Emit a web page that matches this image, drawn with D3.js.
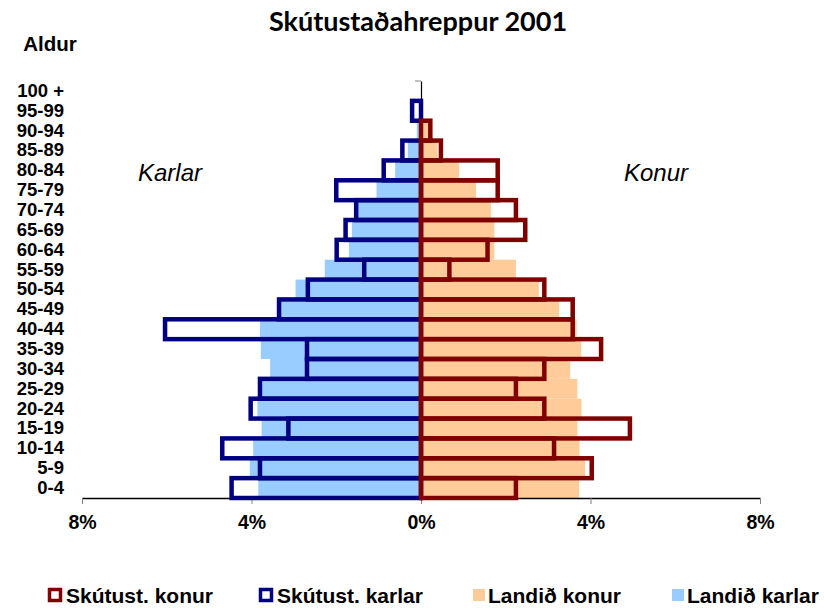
<!DOCTYPE html>
<html>
<head>
<meta charset="utf-8">
<script src="https://cdn.jsdelivr.net/npm/d3@7"></script>
<style>
  body { margin: 0; background: #fff; }
  text { font-family: "Liberation Sans", Arial, sans-serif; }
</style>
</head>
<body>
<svg id="chart" width="824" height="608"></svg>
<script>
// age groups, bottom to top
var ages = ["0-4", "5-9", "10-14", "15-19", "20-24", "25-29", "30-34", "35-39", "40-44", "45-49",
            "50-54", "55-59", "60-64", "65-69", "70-74", "75-79", "80-84", "85-89", "90-94", "95-99", "100 +"];

// percent of population
var skutKarlar = [4.47, 3.80, 4.69, 3.13, 4.02, 3.80, 2.69, 2.69, 6.04, 3.35,
                  2.67, 1.34, 1.99, 1.78, 1.53, 2.00, 0.88, 0.44, 0, 0.21, 0];
var skutKonur  = [2.24, 4.03, 3.14, 4.93, 2.91, 2.24, 2.91, 4.25, 3.58, 3.58,
                  2.91, 0.67, 1.57, 2.46, 2.24, 1.81, 1.81, 0.47, 0.22, 0, 0];
var landKarlar = [3.84, 4.04, 3.96, 3.76, 3.86, 3.75, 3.56, 3.78, 3.80, 3.32,
                  2.96, 2.27, 1.70, 1.63, 1.49, 1.05, 0.61, 0.31, 0.10, 0.03, 0];
var landKonur  = [3.73, 3.87, 3.74, 3.69, 3.79, 3.69, 3.52, 3.78, 3.67, 3.26,
                  2.78, 2.24, 1.73, 1.73, 1.65, 1.30, 0.90, 0.39, 0.17, 0.05, 0.01];

var xTicks = [-8, -4, 0, 4, 8];
var legendNames = ["Skútust. konur", "Skútust. karlar", "Landið konur", "Landið karlar"];

var svg = d3.select("#chart");

var x = d3.scaleLinear().domain([-8, 8]).range([82, 760]);
var y = d3.scaleBand().domain(ages).range([498, 81]).padding(0);

function rows(vals, sign) {
  return vals.map(function (v, i) { return { age: ages[i], v: v * sign }; })
             .filter(function (d) { return d.v !== 0; });
}

// title
svg.append("text")
  .attr("x", 418).attr("y", 31)
  .attr("text-anchor", "middle")
  .style("font-family", "Lato, 'Open Sans', sans-serif")
  .style("font-weight", "bold")
  .style("font-size", "27px")
  .text("Skútustaðahreppur 2001");

svg.append("text")
  .attr("x", 50).attr("y", 51)
  .attr("text-anchor", "middle")
  .style("font-weight", "bold")
  .style("font-size", "20.5px")
  .text("Aldur");

// Landið bars (filled)
svg.append("g").selectAll("rect")
  .data(rows(landKarlar, -1)).enter().append("rect")
  .attr("x", function (d) { return x(d.v); })
  .attr("y", function (d) { return y(d.age); })
  .attr("width", function (d) { return x(0) - x(d.v); })
  .attr("height", y.bandwidth())
  .style("fill", "#99CCFF");

svg.append("g").selectAll("rect")
  .data(rows(landKonur, 1)).enter().append("rect")
  .attr("x", x(0))
  .attr("y", function (d) { return y(d.age); })
  .attr("width", function (d) { return x(d.v) - x(0); })
  .attr("height", y.bandwidth())
  .style("fill", "#FFCC99");

// x axis
var xAxis = svg.append("g")
  .attr("transform", "translate(0,498)")
  .call(d3.axisBottom(x).tickValues(xTicks).tickSize(6).tickSizeOuter(0)
        .tickFormat(function (d) { return Math.abs(d) + "%"; }));
xAxis.select(".domain").attr("stroke", "#000").attr("stroke-width", 1.5);
xAxis.selectAll(".tick line").attr("stroke", "#808080");
xAxis.selectAll(".tick text")
  .attr("y", 17)
  .attr("fill", "#000")
  .style("font-family", "'Liberation Sans', Arial, sans-serif")
  .style("font-weight", "bold")
  .style("font-size", "19.5px");

// centre category axis
var yAxis = svg.append("g")
  .attr("transform", "translate(" + x(0) + ",0)")
  .call(d3.axisLeft(y).tickValues([]).tickSizeOuter(0));
yAxis.select(".domain").attr("stroke", "#000").attr("stroke-width", 1.2);
yAxis.selectAll(".bnd")
  .data(ages).enter().append("line")
  .attr("x1", -6).attr("x2", 0)
  .attr("y1", function (d) { return y(d); })
  .attr("y2", function (d) { return y(d); })
  .attr("stroke", "#808080");

// age labels
var yLab = svg.append("g")
  .attr("transform", "translate(64,0)")
  .call(d3.axisLeft(y).tickSize(0).tickPadding(0));
yLab.select(".domain").remove();
yLab.selectAll(".tick text")
  .attr("fill", "#000")
  .style("font-family", "'Liberation Sans', Arial, sans-serif")
  .style("font-weight", "bold")
  .style("font-size", "18.5px");

// Skútustaðahreppur bars (outlined)
svg.append("g").selectAll("rect")
  .data(rows(skutKarlar, -1)).enter().append("rect")
  .attr("x", function (d) { return x(d.v); })
  .attr("y", function (d) { return y(d.age); })
  .attr("width", function (d) { return x(0) - x(d.v); })
  .attr("height", y.bandwidth())
  .style("fill", "none")
  .style("stroke", "#000080")
  .style("stroke-width", 4.5);

svg.append("g").selectAll("rect")
  .data(rows(skutKonur, 1)).enter().append("rect")
  .attr("x", x(0))
  .attr("y", function (d) { return y(d.age); })
  .attr("width", function (d) { return x(d.v) - x(0); })
  .attr("height", y.bandwidth())
  .style("fill", "none")
  .style("stroke", "#800000")
  .style("stroke-width", 4.5);

// side labels
svg.append("text").attr("x", 170).attr("y", 181)
  .attr("text-anchor", "middle")
  .style("font-style", "italic").style("font-size", "24px")
  .text("Karlar");
svg.append("text").attr("x", 656).attr("y", 181)
  .attr("text-anchor", "middle")
  .style("font-style", "italic").style("font-size", "24px")
  .text("Konur");

// legend
var legendX = [48, 259, 472, 671];
var legendStyle = [
  { fill: "#fff", stroke: "#800000" },
  { fill: "#fff", stroke: "#000080" },
  { fill: "#FFCC99", stroke: "none" },
  { fill: "#99CCFF", stroke: "none" }
];
var leg = svg.append("g").selectAll("g")
  .data(legendNames).enter().append("g")
  .attr("transform", function (d, i) { return "translate(" + legendX[i] + ",595)"; });
leg.append("rect")
  .attr("x", function (d, i) { return i < 2 ? 1.5 : 1; })
  .attr("y", function (d, i) { return i < 2 ? -5.5 : -6; })
  .attr("width", function (d, i) { return i < 2 ? 11 : 12; })
  .attr("height", function (d, i) { return i < 2 ? 11 : 12; })
  .style("fill", function (d, i) { return legendStyle[i].fill; })
  .style("stroke", function (d, i) { return legendStyle[i].stroke; })
  .style("stroke-width", 3.5);
leg.append("text")
  .attr("x", function (d, i) { return i < 2 ? 18 : 16; })
  .attr("y", 7.5)
  .style("font-weight", "bold")
  .style("font-size", "21px")
  .text(function (d) { return d; });
</script>
</body>
</html>
